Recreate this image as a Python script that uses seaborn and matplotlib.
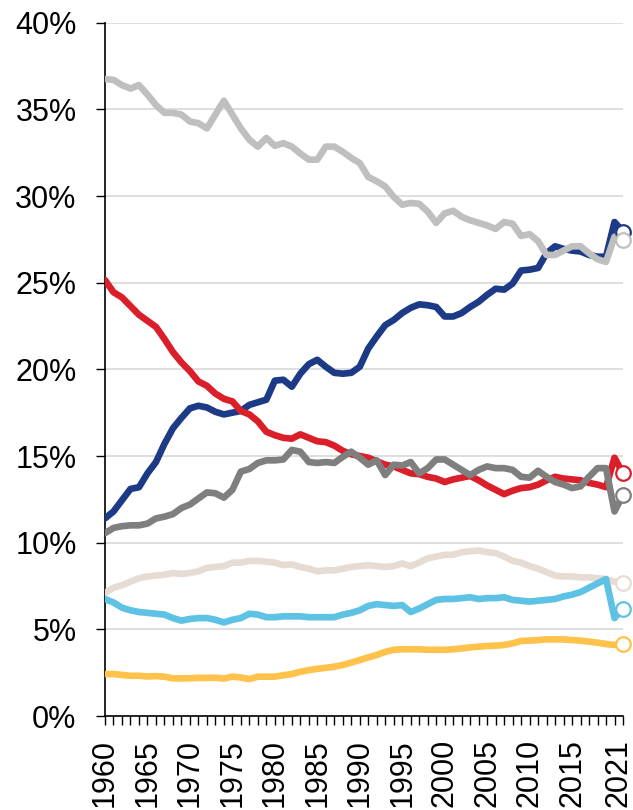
import numpy as np
import pandas as pd
import seaborn as sns
import matplotlib
matplotlib.use("Agg")
import matplotlib.pyplot as plt
from matplotlib.transforms import ScaledTranslation

# yearly shares (%), 1960-2021
years = list(range(1960, 2022))

navy = [11.4, 11.8, 12.45, 13.1, 13.2, 14.0, 14.65, 15.7, 16.6, 17.2,
        17.75, 17.9, 17.8, 17.55, 17.4, 17.5, 17.6, 17.95, 18.1, 18.25,
        19.35, 19.4, 19.0, 19.75, 20.3, 20.55, 20.15, 19.8, 19.75, 19.8,
        20.15, 21.2, 21.9, 22.55, 22.85, 23.25, 23.55, 23.75, 23.7, 23.6,
        23.05, 23.05, 23.25, 23.6, 23.9, 24.3, 24.65, 24.6, 24.95, 25.7,
        25.75, 25.85, 26.7, 27.1, 26.95, 26.85, 26.8, 26.6, 26.5, 26.5,
        28.5, 27.95]
red = [25.15, 24.45, 24.15, 23.65, 23.15, 22.8, 22.45, 21.75, 21.0, 20.4,
       19.9, 19.3, 19.05, 18.6, 18.3, 18.15, 17.6, 17.4, 17.0, 16.4,
       16.2, 16.05, 16.0, 16.25, 16.05, 15.85, 15.8, 15.6, 15.3, 15.1,
       15.0, 14.9, 14.7, 14.5, 14.4, 14.2, 14.0, 13.95, 13.8, 13.7,
       13.5, 13.65, 13.75, 13.85, 13.6, 13.3, 13.05, 12.8, 13.0, 13.15,
       13.2, 13.35, 13.6, 13.8, 13.7, 13.65, 13.6, 13.45, 13.35, 13.2,
       14.9, 14.0]
light_gray = [36.75, 36.7, 36.4, 36.2, 36.4, 35.85, 35.25, 34.8, 34.8, 34.7,
              34.3, 34.2, 33.9, 34.7, 35.5, 34.7, 33.9, 33.25, 32.85, 33.35,
              32.9, 33.05, 32.85, 32.45, 32.1, 32.1, 32.85, 32.85, 32.55, 32.2,
              31.9, 31.1, 30.85, 30.55, 29.95, 29.5, 29.6, 29.55, 29.1, 28.45,
              29.0, 29.15, 28.8, 28.6, 28.45, 28.3, 28.1, 28.5, 28.4, 27.7,
              27.8, 27.4, 26.6, 26.6, 26.85, 27.1, 27.1, 26.7, 26.35, 26.2,
              27.65, 27.45]
dark_gray = [10.55, 10.85, 10.95, 11.0, 11.0, 11.1, 11.4, 11.5, 11.65, 12.0,
             12.2, 12.55, 12.9, 12.85, 12.6, 13.05, 14.1, 14.25, 14.6, 14.75,
             14.75, 14.8, 15.35, 15.25, 14.65, 14.6, 14.65, 14.6, 14.95, 15.25,
             14.9, 14.5, 14.75, 13.9, 14.5, 14.45, 14.65, 14.0, 14.3, 14.8,
             14.8, 14.5, 14.2, 13.9, 14.2, 14.4, 14.3, 14.3, 14.2, 13.8,
             13.75, 14.15, 13.8, 13.5, 13.35, 13.15, 13.25, 13.8, 14.3, 14.3,
             11.8, 12.75]
beige = [7.1, 7.4, 7.55, 7.75, 7.95, 8.05, 8.1, 8.15, 8.25, 8.2,
         8.25, 8.35, 8.55, 8.6, 8.65, 8.85, 8.85, 8.95, 8.95, 8.9,
         8.85, 8.7, 8.75, 8.6, 8.5, 8.35, 8.4, 8.4, 8.5, 8.6,
         8.65, 8.7, 8.65, 8.6, 8.65, 8.8, 8.65, 8.85, 9.1, 9.2,
         9.3, 9.3, 9.45, 9.5, 9.55, 9.45, 9.4, 9.2, 8.95, 8.85,
         8.65, 8.5, 8.3, 8.1, 8.05, 8.05, 8.0, 8.0, 7.95, 7.9,
         7.75, 7.7]
light_blue = [6.75, 6.55, 6.25, 6.1, 6.0, 5.95, 5.9, 5.85, 5.65, 5.5,
              5.6, 5.65, 5.65, 5.55, 5.4, 5.55, 5.65, 5.9, 5.85, 5.7,
              5.7, 5.75, 5.75, 5.75, 5.7, 5.7, 5.7, 5.7, 5.85, 5.95,
              6.1, 6.35, 6.45, 6.4, 6.35, 6.4, 6.0, 6.2, 6.45, 6.7,
              6.75, 6.75, 6.8, 6.85, 6.75, 6.8, 6.8, 6.85, 6.7, 6.65,
              6.6, 6.65, 6.7, 6.75, 6.9, 7.0, 7.15, 7.4, 7.65, 7.9,
              5.65, 6.2]
yellow = [2.42, 2.42, 2.37, 2.32, 2.32, 2.28, 2.3, 2.27, 2.17, 2.17,
          2.18, 2.2, 2.2, 2.21, 2.16, 2.27, 2.22, 2.13, 2.27, 2.27,
          2.27, 2.35, 2.42, 2.55, 2.65, 2.72, 2.78, 2.85, 2.94, 3.08,
          3.23, 3.38, 3.52, 3.7, 3.82, 3.85, 3.85, 3.85, 3.82, 3.82,
          3.82, 3.85, 3.9, 3.96, 4.0, 4.04, 4.06, 4.1, 4.19, 4.33,
          4.35, 4.38, 4.42, 4.42, 4.42, 4.38, 4.35, 4.29, 4.23, 4.15,
          4.1, 4.18]

series = {
    "navy": navy,
    "red": red,
    "light_gray": light_gray,
    "dark_gray": dark_gray,
    "beige": beige,
    "light_blue": light_blue,
    "yellow": yellow,
}
colors = {
    "navy": "#1D3A87",
    "red": "#DA1F2B",
    "light_gray": "#BFBFBF",
    "dark_gray": "#7F7F7F",
    "beige": "#E6DCD3",
    "light_blue": "#5DC2E3",
    "yellow": "#FFC24B",
}

df = pd.DataFrame({"year": years, **series})

# labels every 5 years, plus the last year (2020 left blank)
labelled_years = [1960, 1965, 1970, 1975, 1980, 1985, 1990, 1995,
                  2000, 2005, 2010, 2015, 2021]
tick_labels = [str(y) if y in labelled_years else "" for y in years]
y_ticks = list(range(0, 41, 5))

sns.set_theme(style="white")
plt.rcParams["font.family"] = ["Liberation Sans", "DejaVu Sans"]

fig = plt.figure(figsize=(6.33, 8.10), dpi=100)
ax = fig.add_axes([105 / 633, 94 / 810, 518 / 633, 693.3 / 810])

for name in series:
    sns.lineplot(data=df, x="year", y=name, color=colors[name],
                 linewidth=4.8, ax=ax, legend=False, zorder=3)
    # open circle on the latest value
    ax.plot(df["year"].iloc[-1], df[name].iloc[-1], marker="o", markersize=10.5,
            markerfacecolor="white", markeredgecolor=colors[name],
            markeredgewidth=1.6, clip_on=False, zorder=4)

ax.set_xlim(1960, 2021)
ax.set_ylim(0, 40)
ax.set_xticks(years)
ax.set_xticklabels(tick_labels, rotation=90, fontsize=22)
ax.set_yticks(y_ticks)
ax.set_yticklabels([f"{v}%" for v in y_ticks], fontsize=22)
ax.set_xlabel("")
ax.set_ylabel("")

ax.yaxis.grid(True, color="#D9D9D9", linewidth=1.2)
ax.xaxis.grid(False)
ax.set_axisbelow(True)

for side in ["top", "right"]:
    ax.spines[side].set_visible(False)
for side in ["left", "bottom"]:
    ax.spines[side].set_color("black")
    ax.spines[side].set_linewidth(1.2)

ax.tick_params(axis="x", direction="out", length=6.5, width=1, color="black",
               labelcolor="black", pad=10, bottom=True)
ax.tick_params(axis="y", direction="out", length=6.5, width=1, color="black",
               labelcolor="black", pad=14, left=True)

# last label sits a little left of its tick so it stays inside the figure
last_label = ax.get_xticklabels()[-1]
last_label.set_transform(last_label.get_transform()
                         + ScaledTranslation(-5 / 100, 0, fig.dpi_scale_trans))

fig.savefig("out.png", dpi=100)
